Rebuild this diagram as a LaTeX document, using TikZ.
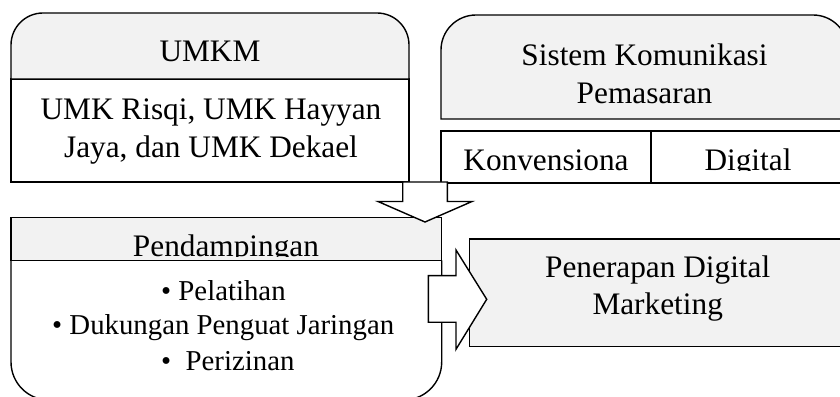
\documentclass[tikz,border=0pt]{standalone}
\usepackage{fontspec}
\setmainfont{Liberation Serif}
\definecolor{hdr}{HTML}{F2F2F2}
\tikzset{
  outline/.style={draw=black, line width=1.4pt, line join=miter},
  big/.style={font=\fontsize{31.3}{37.8}\selectfont, inner sep=0pt, align=center},
  small/.style={font=\fontsize{28.8}{34.7}\selectfont, inner sep=0pt},
  blockarrow/.style={outline, fill=white}
}
\begin{document}
\begin{tikzpicture}[x=1pt,y=1pt]
\useasboundingbox (0,0) rectangle (840,396);
% ---------- UMKM ----------
\draw[outline, fill=white] (11,317) rectangle (409,214);
\draw[outline, fill=hdr] (11,317) -- (11,351) arc[start angle=180,end angle=90,radius=32]
  -- (377,383) arc[start angle=90,end angle=0,radius=32] -- (409,317) -- cycle;
\node[big, anchor=base] (umkm) at (210,334.3) {UMKM};
\node[big, anchor=base] (umkm1) at (211,276.7) {UMK Risqi, UMK Hayyan};
\node[big, anchor=base] (umkm2) at (211,238.7) {Jaya, dan UMK Dekael};
% ---------- Sistem Komunikasi ----------
\draw[outline, fill=hdr] (441,277) -- (441,346) arc[start angle=180,end angle=90,radius=35]
  -- (813,381) arc[start angle=90,end angle=0,radius=35] -- (848,277) -- cycle;
\node[big, anchor=base] (skp1) at (644.5,330) {Sistem Komunikasi};
\node[big, anchor=base] (skp2) at (644.5,292) {Pemasaran};
\draw[outline, fill=white] (441,265) rectangle (848,213);
\draw[outline] (651,265) -- (651,213);
\begin{scope}
  \clip (441,225.5) rectangle (848,265);
  \node[big, anchor=base] (konv) at (546,225.5) {Konvensiona};
  \node[big, anchor=base] (digi) at (748,225.5) {Digital};
\end{scope}
% ---------- Pendampingan ----------
\draw[outline, fill=white] (11,135.5) -- (11,34) arc[start angle=180,end angle=270,radius=38]
  -- (403.7,-4) arc[start angle=270,end angle=360,radius=38] -- (441.7,135.5);
\draw[outline, fill=hdr] (11,135.5) rectangle (441.7,178.3);
\begin{scope}
  \clip (11,139.3) rectangle (441.7,178.3);
  \node[big, anchor=base] (pend) at (226,139.3) {Pendampingan};
\end{scope}
\node[small, anchor=base west] (b1) at (161,95.3) {• Pelatihan};
\node[small, anchor=base west] (b2) at (52,61) {• Dukungan Penguat Jaringan};
\node[small, anchor=base west] (b3) at (161,26) {•\ \ Perizinan};
% ---------- Penerapan Digital Marketing ----------
\draw[outline, fill=hdr] (469.3,157) rectangle (846,49.3);
\node[big, anchor=base] (pdm1) at (657.7,118) {Penerapan Digital};
\node[big, anchor=base] (pdm2) at (657.7,81) {Marketing};
% ---------- block arrows ----------
\draw[blockarrow] (402.7,214) -- (402.7,194.5) -- (378,194.5) -- (425,174)
  -- (472,194.5) -- (447.3,194.5) -- (447.3,214) -- cycle;
\draw[blockarrow] (428.3,120.3) -- (456,120.3) -- (456,146) -- (486.7,96.7)
  -- (456,46.7) -- (456,73.7) -- (428.3,73.7) -- cycle;
\end{tikzpicture}
\end{document}
